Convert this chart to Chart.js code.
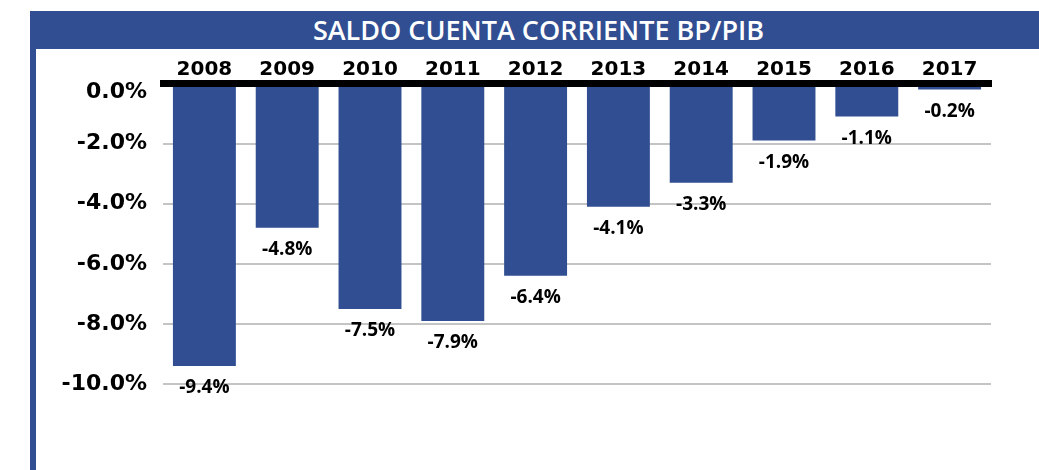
<!DOCTYPE html>
<html>
<head>
<meta charset="utf-8">
<title>Saldo cuenta corriente BP/PIB</title>
<script src="https://cdn.jsdelivr.net/npm/chart.js@4/dist/chart.umd.min.js"></script>
<style>
  html, body { margin: 0; padding: 0; background: #fff; }
  #frame { position: relative; width: 1039px; height: 470px; overflow: hidden; }
  .band {
    position: absolute; left: 30px; right: 0; top: 11px; height: 38px;
    background: #304e91; color: #fff;
    font: 600 27px 'Open Sans', sans-serif; line-height: 38px;
    text-align: center; padding-left: 8px; box-sizing: border-box;
  }
  .side { position: absolute; left: 30px; top: 49px; bottom: 0; width: 6px; background: #304e91; }
  #wrap { position: absolute; left: 0; top: 0; width: 1039px; height: 470px; }
</style>
</head>
<body>
<div id="frame">
  <div id="wrap"><canvas id="saldo-chart"></canvas></div>
  <div class="band">SALDO CUENTA CORRIENTE BP/PIB</div>
  <div class="side"></div>
</div>
<script>
// Saldo cuenta corriente (% del PIB), 2008-2017
const years    = ['2008', '2009', '2010', '2011', '2012', '2013', '2014', '2015', '2016', '2017'];
const saldoPib = [-9.4, -4.8, -7.5, -7.9, -6.4, -4.1, -3.3, -1.9, -1.1, -0.2];
const yTicks   = [0, -2, -4, -6, -8, -10];

const COLORS = {
  bar:  '#304e91',
  grid: '#c4c4c4',
  zero: '#000000',
  text: '#000000',
};

// value labels under each bar
const barLabels = {
  id: 'barLabels',
  afterDatasetsDraw(chart) {
    const ctx = chart.ctx;
    const meta = chart.getDatasetMeta(0);
    ctx.save();
    ctx.font = 'bold 19px "Open Sans", sans-serif';
    ctx.fillStyle = COLORS.text;
    ctx.textAlign = 'center';
    ctx.textBaseline = 'middle';
    meta.data.forEach((bar, i) => {
      ctx.fillText(saldoPib[i].toFixed(1) + '%', bar.x, bar.y + 22);
    });
    ctx.restore();
  }
};

new Chart(document.getElementById('saldo-chart'), {
  type: 'bar',
  data: {
    labels: years,
    datasets: [{
      label: 'Saldo cuenta corriente BP/PIB',
      data: saldoPib,
      backgroundColor: COLORS.bar,
      borderWidth: 0,
      barPercentage: 0.76,
      categoryPercentage: 1,
    }],
  },
  options: {
    responsive: true,
    maintainAspectRatio: false,
    animation: false,
    layout: { padding: { top: 55.5, right: 48, bottom: 86, left: 0 } },
    plugins: {
      legend: { display: false },
      tooltip: { enabled: false },
    },
    scales: {
      x: {
        position: 'top',
        grid: { display: false, drawTicks: false },
        border: { display: true, color: COLORS.zero, width: 7, z: 1 },
        ticks: {
          color: COLORS.text,
          padding: 2,
          maxRotation: 0,
          autoSkip: false,
          font: { family: '"DejaVu Sans", sans-serif', size: 20, weight: 'bold' },
        },
      },
      y: {
        min: -10,
        max: 0,
        afterBuildTicks: scale => { scale.ticks = yTicks.map(v => ({ value: v })); },
        afterFit: scale => { scale.width = 163; },
        border: { display: false },
        grid: {
          color: ctx => (ctx.tick && ctx.tick.value === 0) ? 'rgba(0,0,0,0)' : COLORS.grid,
          lineWidth: 2,
          drawTicks: false,
        },
        ticks: {
          color: COLORS.text,
          padding: 16,
          font: { family: '"DejaVu Sans", sans-serif', size: 22, weight: 'bold', lineHeight: 0.82 },
          // zero label sits a little below the black baseline in the original
          callback: v => v === 0 ? ['', '0.0%'] : v.toFixed(1) + '%',
        },
      },
    },
  },
  plugins: [barLabels],
});
</script>
</body>
</html>
